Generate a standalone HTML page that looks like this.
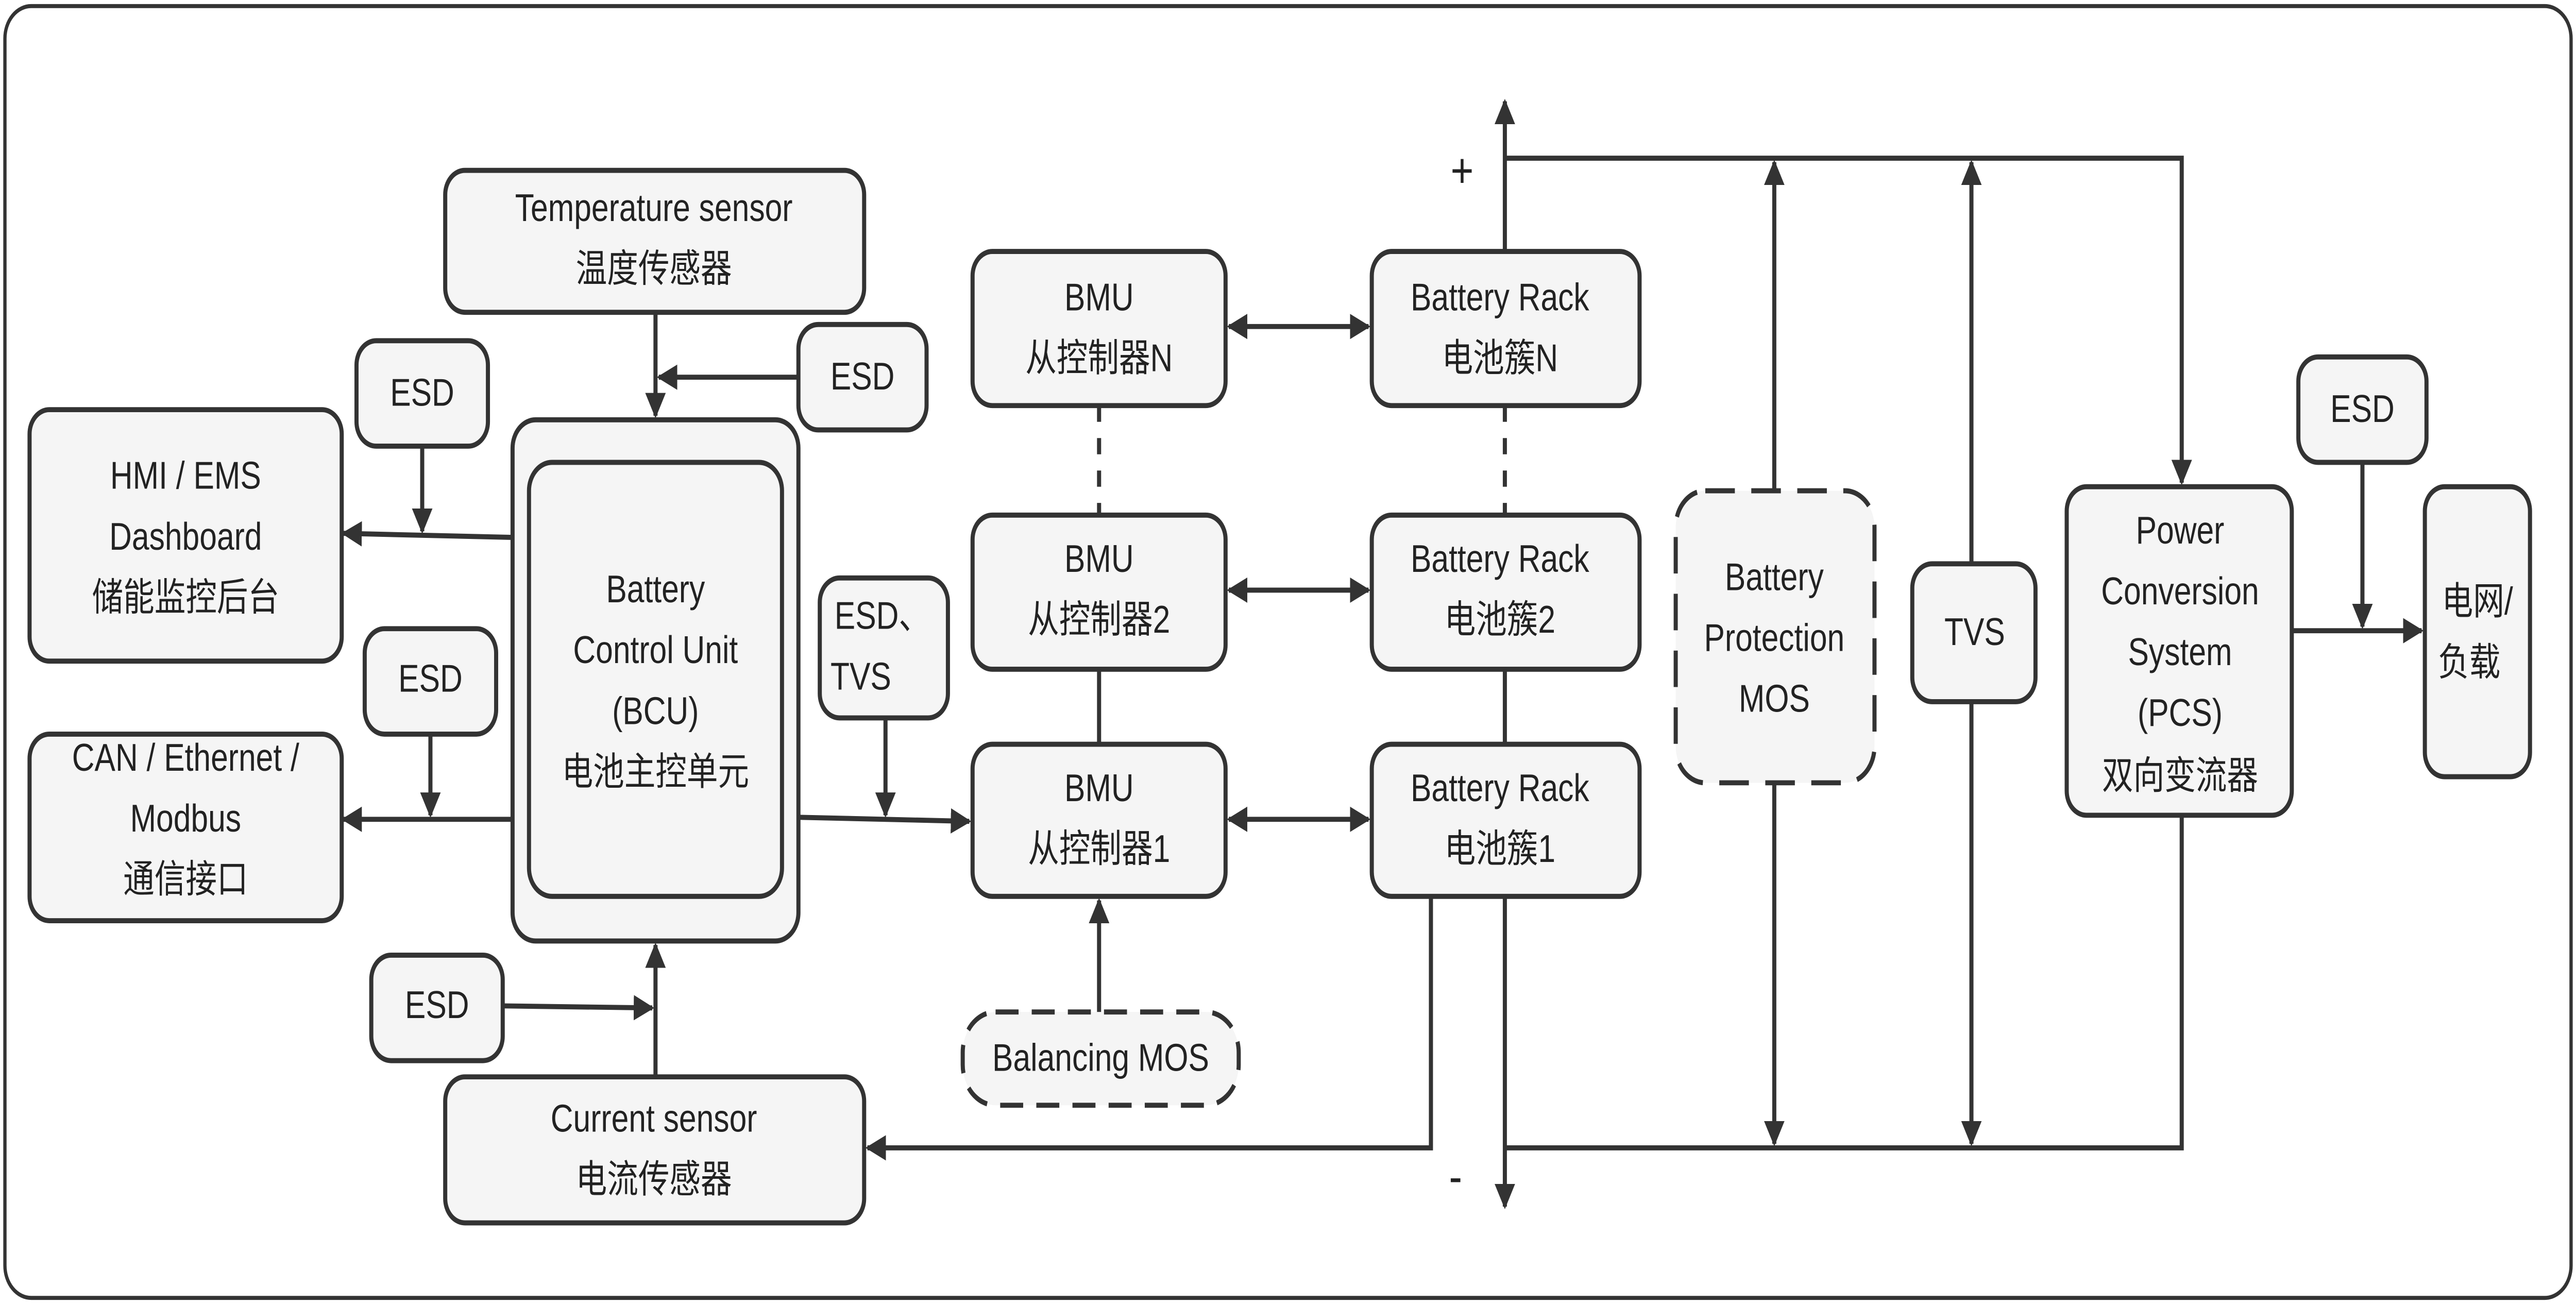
<!DOCTYPE html>
<html><head><meta charset="utf-8"><style>
html,body{margin:0;padding:0;background:#fff;overflow:hidden;width:100vw;height:100vh;}
svg{display:block;width:100vw;height:100vh;}
text{font-family:"Liberation Sans","Noto Sans CJK SC",sans-serif;font-size:19px;fill:#222;text-anchor:middle;dominant-baseline:middle}
</style></head><body>
<svg viewBox="0 0 1568 643" preserveAspectRatio="none" xmlns="http://www.w3.org/2000/svg">
<defs>
<marker id="a" viewBox="0 0 10 10" refX="9" refY="5" markerWidth="5" markerHeight="5" orient="auto-start-reverse"><path d="M0,0 L10,5 L0,10 z" fill="#333"/></marker>
</defs>
<rect x="3" y="3" width="1562" height="637" rx="16" fill="#fff" stroke="#333" stroke-width="2"/>
<g fill="#f5f5f5" stroke="#333" stroke-width="2.5">
<rect x="271" y="84" width="255" height="70" rx="12"/>
<rect x="486" y="160" width="78" height="52" rx="12"/>
<rect x="217" y="168" width="80" height="52" rx="12"/>
<rect x="18" y="202" width="190" height="124" rx="12"/>
<rect x="312" y="207" width="174" height="257" rx="14"/>
<rect x="322" y="228" width="154" height="214" rx="14"/>
<rect x="222" y="310" width="80" height="52" rx="12"/>
<rect x="18" y="362" width="190" height="92" rx="12"/>
<rect x="226" y="471" width="80" height="52" rx="12"/>
<rect x="271" y="531" width="255" height="72" rx="12"/>
<rect x="499" y="285" width="78" height="69" rx="12"/>
<rect x="592" y="124" width="154" height="76" rx="12"/>
<rect x="592" y="254" width="154" height="76" rx="12"/>
<rect x="592" y="367" width="154" height="75" rx="12"/>
<rect x="835" y="124" width="163" height="76" rx="12"/>
<rect x="835" y="254" width="163" height="76" rx="12"/>
<rect x="835" y="367" width="163" height="75" rx="12"/>
<rect x="586" y="499" width="168" height="46" rx="20" stroke-dasharray="14,8"/>
<rect x="1020" y="242" width="121" height="144" rx="18" stroke-dasharray="18,10"/>
<rect x="1164" y="278" width="75" height="68" rx="12"/>
<rect x="1258" y="240" width="137" height="162" rx="12"/>
<rect x="1399" y="176" width="78" height="52" rx="12"/>
<rect x="1476" y="240" width="64" height="143" rx="12"/>
</g>
<g stroke="#333" stroke-width="2.5" fill="none">
<line x1="399" y1="154" x2="399" y2="205" marker-end="url(#a)"/>
<line x1="486" y1="186" x2="401" y2="186" marker-end="url(#a)"/>
<line x1="257" y1="220" x2="257" y2="262" marker-end="url(#a)"/>
<line x1="312" y1="265" x2="209" y2="263" marker-end="url(#a)"/>
<line x1="262" y1="362" x2="262" y2="402" marker-end="url(#a)"/>
<line x1="312" y1="404" x2="209" y2="404" marker-end="url(#a)"/>
<line x1="306" y1="496" x2="397" y2="497" marker-end="url(#a)"/>
<line x1="399" y1="531" x2="399" y2="466" marker-end="url(#a)"/>
<line x1="486" y1="403" x2="590" y2="405" marker-end="url(#a)"/>
<line x1="539" y1="354" x2="539" y2="402" marker-end="url(#a)"/>
<line x1="748" y1="161" x2="833" y2="161" marker-start="url(#a)" marker-end="url(#a)"/>
<line x1="748" y1="291" x2="833" y2="291" marker-start="url(#a)" marker-end="url(#a)"/>
<line x1="748" y1="404" x2="833" y2="404" marker-start="url(#a)" marker-end="url(#a)"/>
<line x1="669" y1="200" x2="669" y2="254" stroke-dasharray="8,8"/>
<line x1="916" y1="200" x2="916" y2="254" stroke-dasharray="8,8"/>
<line x1="669" y1="330" x2="669" y2="367"/>
<line x1="916" y1="330" x2="916" y2="367"/>
<line x1="669" y1="499" x2="669" y2="444" marker-end="url(#a)"/>
<line x1="916" y1="124" x2="916" y2="50" marker-end="url(#a)"/>
<line x1="916" y1="442" x2="916" y2="595" marker-end="url(#a)"/>
<polyline points="916,78 1328,78 1328,238" marker-end="url(#a)"/>
<polyline points="916,566 1328,566 1328,402"/>
<polyline points="871,442 871,566 528,566" marker-end="url(#a)"/>
<line x1="1080" y1="242" x2="1080" y2="80" marker-end="url(#a)"/>
<line x1="1080" y1="386" x2="1080" y2="564" marker-end="url(#a)"/>
<line x1="1200" y1="278" x2="1200" y2="80" marker-end="url(#a)"/>
<line x1="1200" y1="346" x2="1200" y2="564" marker-end="url(#a)"/>
<line x1="1395" y1="311" x2="1474" y2="311" marker-end="url(#a)"/>
<line x1="1438" y1="228" x2="1438" y2="309" marker-end="url(#a)"/>
</g>
<text x="398" y="104">Temperature sensor</text><text x="398" y="134">温度传感器</text>
<text x="525" y="187">ESD</text>
<text x="257" y="195">ESD</text>
<text x="113" y="236">HMI / EMS</text><text x="113" y="266">Dashboard</text><text x="113" y="296">储能监控后台</text>
<text x="399" y="292">Battery</text><text x="399" y="322">Control Unit</text><text x="399" y="352">(BCU)</text><text x="399" y="382">电池主控单元</text>
<text x="262" y="336">ESD</text>
<text x="113" y="375">CAN / Ethernet /</text><text x="113" y="405">Modbus</text><text x="113" y="435">通信接口</text>
<text x="266" y="497">ESD</text>
<text x="398" y="553">Current sensor</text><text x="398" y="583">电流传感器</text>
<text x="537" y="305">ESD、</text><text x="524" y="335">TVS</text>
<text x="669" y="148">BMU</text><text x="669" y="178">从控制器N</text>
<text x="669" y="277">BMU</text><text x="669" y="307">从控制器2</text>
<text x="669" y="390">BMU</text><text x="669" y="420">从控制器1</text>
<text x="913" y="148">Battery Rack</text><text x="913" y="178">电池簇N</text>
<text x="913" y="277">Battery Rack</text><text x="913" y="307">电池簇2</text>
<text x="913" y="390">Battery Rack</text><text x="913" y="420">电池簇1</text>
<text x="670" y="523">Balancing MOS</text>
<text x="1080" y="286">Battery</text><text x="1080" y="316">Protection</text><text x="1080" y="346">MOS</text>
<text x="1202" y="313">TVS</text>
<text x="1327" y="263">Power</text><text x="1327" y="293">Conversion</text><text x="1327" y="323">System</text><text x="1327" y="353">(PCS)</text><text x="1327" y="384">双向变流器</text>
<text x="1438" y="203">ESD</text>
<text x="1508" y="298">电网/</text><text x="1503" y="328">负载</text>
<text x="890" y="86" style="font-size:24px">+</text>
<text x="886" y="582" style="font-size:24px">-</text>
</svg>
</body></html>
